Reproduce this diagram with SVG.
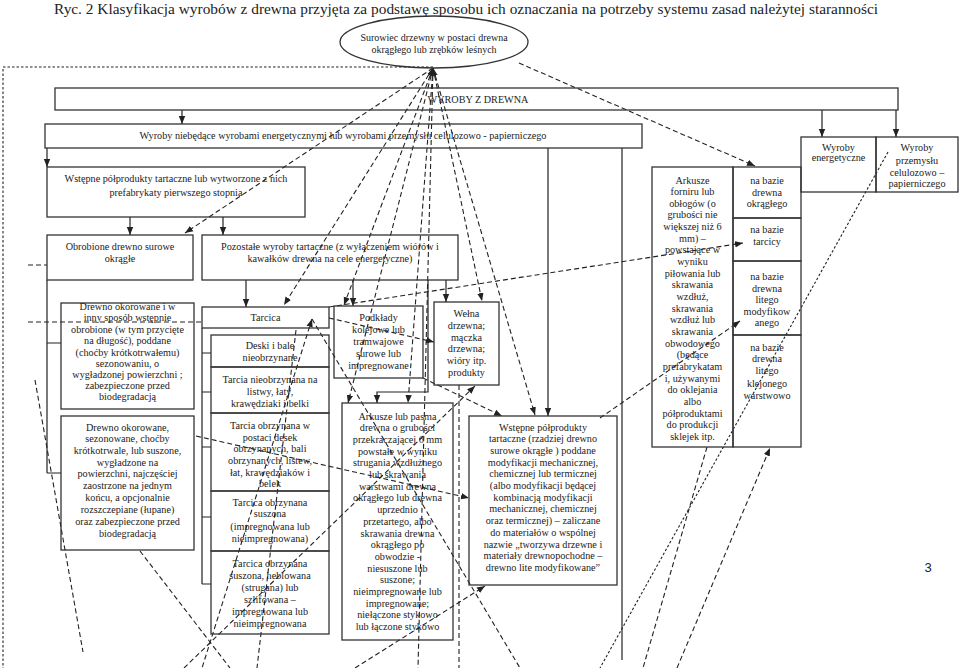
<svg xmlns="http://www.w3.org/2000/svg" width="960" height="668" viewBox="0 0 960 668">
<style>
.b{fill:#fff;stroke:#333;stroke-width:1.3}
.t{font-family:"Liberation Serif","Times New Roman",serif;font-size:10.2px;fill:#222;text-anchor:middle}
.s{fill:none;stroke:#222;stroke-width:1.2}
.d{fill:none;stroke:#222;stroke-width:1.1;stroke-dasharray:5,3}
.dt{fill:none;stroke:#222;stroke-width:1.1;stroke-dasharray:2.5,2}
</style>
<defs>
<marker id="ah" viewBox="0 0 10 10" refX="10" refY="5" markerWidth="8" markerHeight="8" markerUnits="userSpaceOnUse" orient="auto-start-reverse"><path d="M0,1 L10,5 L0,9 z" fill="#222"/></marker>
</defs>
<rect width="960" height="668" fill="#fff"/>
<text x="54" y="14" font-family="'Liberation Serif', 'Times New Roman', serif" font-size="15.5" fill="#222" textLength="824" lengthAdjust="spacingAndGlyphs">Ryc. 2 Klasyfikacja wyrobów z drewna przyjęta za podstawę sposobu ich oznaczania na potrzeby systemu zasad należytej staranności</text>
<text x="928" y="572" font-family="'Liberation Sans', Arial, sans-serif" font-size="13" fill="#222" text-anchor="middle">3</text>

<g id="connectors">
<path class="dt" d="M433,67 H3 V668"/>
<path class="s" d="M182,110 V124" marker-end="url(#ah)"/>
<path class="s" d="M822,110 V137" marker-end="url(#ah)"/>
<path class="s" d="M896,110 V137" marker-end="url(#ah)"/>
<path class="s" d="M47,148 V167" marker-end="url(#ah)"/>
<path class="s" d="M130,217 V235" marker-end="url(#ah)"/>
<path class="s" d="M223,217 V235" marker-end="url(#ah)"/>
<path class="s" d="M47,280 V473 M47,343 H61 M47,473 H61"/>
<path class="s" d="M246,280 V307" marker-end="url(#ah)"/>
<path class="s" d="M202,328 V584 M202,353 H211 M202,392 H211 M202,447 H211 M202,517 H211 M202,584 H211"/>
<path class="s" d="M353,280 V306" marker-end="url(#ah)"/>
<path class="s" d="M428,280 V392 H377 V403" marker-end="url(#ah)"/>
<path class="s" d="M446,280 V302" marker-end="url(#ah)"/>
<path class="s" d="M548,148 V416" marker-end="url(#ah)"/>
<path class="s" d="M622,148 V660"/>

<path class="d" d="M433,68 L185,233" marker-end="url(#ah)"/>
<path class="d" d="M433,68 L284,305" marker-end="url(#ah)"/>
<path class="d" d="M433,68 L344,305" marker-start="url(#ah)" marker-end="url(#ah)"/>
<path class="d" d="M433,68 L348,403" marker-end="url(#ah)"/>
<path class="d" d="M433,68 L408,403" marker-end="url(#ah)"/>
<path class="d" d="M433,68 L418,668" marker-start="url(#ah)"/>
<path class="d" d="M433,68 L482,301" marker-start="url(#ah)" marker-end="url(#ah)"/>
<path class="d" d="M433,68 L535,415" marker-end="url(#ah)"/>

<path class="d" d="M519,63 L755,166" marker-end="url(#ah)"/>
<path class="d" d="M329,307 L743,243" marker-end="url(#ah)"/>
<path class="d" d="M600,418 L740,321" marker-end="url(#ah)"/>
<path class="dt" d="M888,152 L600,668"/>
<path class="d" d="M677,668 L770,448" marker-end="url(#ah)"/>
<path class="d" d="M329,318 L434,342" marker-end="url(#ah)"/>
<path class="d" d="M312,319 L202,668" marker-start="url(#ah)"/>
<path class="d" d="M312,319 L520,668"/>
<path class="d" d="M184,668 L475,386" marker-end="url(#ah)"/>
<path class="d" d="M459,385 L459,668"/>
<path class="d" d="M355,668 L485,586" marker-end="url(#ah)"/>
<path class="d" d="M423,378 L502,416" marker-end="url(#ah)"/>
<path class="d" d="M140,551 L230,668"/>
<path class="d" d="M35,380 L83,652"/>
<path class="d" d="M28,322 L202,322"/>
<path class="d" d="M196,436 L469,498" marker-end="url(#ah)"/>
<path class="d" d="M28,265 L47,265"/>
<path class="d" d="M296,330 L257,668"/>
<path class="d" d="M707,447 L643,668"/>
</g>

<g id="surowiec">
<ellipse cx="434" cy="42" rx="94" ry="26" fill="none" stroke="#333" stroke-width="1.3"/>
<text class="t" style="font-size:10px" x="434" y="41">Surowiec drzewny w postaci drewna</text>
<text class="t" style="font-size:10px" x="434" y="53">okrągłego lub zrębków leśnych</text>
</g>

<g id="wyroby-z-drewna">
<rect class="b" x="55" y="88" width="843" height="22" fill-opacity="0"/>
<text class="t" x="478" y="103">WYROBY Z DREWNA</text>
</g>

<g id="wyroby-nieenerg">
<rect class="b" x="45" y="124" width="597" height="24" fill-opacity="0"/>
<text class="t" x="343" y="139">Wyroby niebędące wyrobami energetycznymi lub wyrobami przemysłu celulozowo - papierniczego</text>
</g>

<g id="wstepne">
<rect class="b" x="47" y="167" width="258" height="50" fill-opacity="0"/>
<text class="t" x="176" y="182">Wstępne półprodukty tartaczne lub wytworzone z nich</text>
<text class="t" x="176" y="196">prefabrykaty  pierwszego stopnia</text>
</g>

<g id="obrobione">
<rect class="b" x="47" y="235" width="146" height="45" fill-opacity="0"/>
<text class="t" x="120" y="250">Obrobione drewno surowe</text>
<text class="t" x="120" y="262">okrągłe</text>
</g>

<g id="pozostale">
<rect class="b" x="202" y="235" width="256" height="45" fill-opacity="0"/>
<text class="t" x="330" y="250">Pozostałe wyroby tartaczne (z wyłączeniem wiórów i</text>
<text class="t" x="330" y="262">kawałków drewna na cele energetyczne)</text>
</g>

<g id="drewno-okorowane-1">
<rect class="b" x="61" y="303" width="133" height="106" fill-opacity="0"/>
<text class="t" x="127.5" y="310">Drewno okorowane i w</text>
<text class="t" x="127.5" y="321">inny sposób wstępnie</text>
<text class="t" x="127.5" y="332.5">obrobione (w tym przycięte</text>
<text class="t" x="127.5" y="344">na długość), poddane</text>
<text class="t" x="127.5" y="355.5">(choćby krótkotrwałemu)</text>
<text class="t" x="127.5" y="366.5">sezonowaniu, o</text>
<text class="t" x="127.5" y="377.5">wygładzonej powierzchni ;</text>
<text class="t" x="127.5" y="388.5">zabezpieczone przed</text>
<text class="t" x="127.5" y="399.5">biodegradacją</text>
</g>

<g id="drewno-okorowane-2">
<rect class="b" x="61" y="416" width="133" height="134" fill-opacity="0"/>
<text class="t" x="127.5" y="430.5">Drewno okorowane,</text>
<text class="t" x="127.5" y="442">sezonowane, choćby</text>
<text class="t" x="127.5" y="453.5">krótkotrwale, lub suszone,</text>
<text class="t" x="127.5" y="465.5">wygładzone na</text>
<text class="t" x="127.5" y="477">powierzchni, najczęściej</text>
<text class="t" x="127.5" y="489">zaostrzone na jednym</text>
<text class="t" x="127.5" y="500.5">końcu,  a opcjonalnie</text>
<text class="t" x="127.5" y="512.5">rozszczepiane (łupane)</text>
<text class="t" x="127.5" y="524.5">oraz zabezpieczone przed</text>
<text class="t" x="127.5" y="536.5">biodegradacją</text>
</g>

<g id="tarcica">
<rect class="b" x="202" y="307" width="127" height="21" fill-opacity="0"/>
<text class="t" x="265.5" y="321">Tarcica</text>
</g>

<g id="tarcica-sub">
<rect class="b" x="211" y="335" width="118" height="32" fill-opacity="0"/>
<text class="t" x="270" y="348.5">Deski i bale</text>
<text class="t" x="270" y="361">nieobrzynane</text>
<rect class="b" x="211" y="367" width="118" height="46" fill-opacity="0"/>
<text class="t" x="270" y="382.5">Tarcia nieobrzynana  na</text>
<text class="t" x="270" y="394.5">listwy, łaty,</text>
<text class="t" x="270" y="406.5">krawędziaki i belki</text>
<rect class="b" x="211" y="413" width="118" height="78" fill-opacity="0"/>
<text class="t" x="270" y="428.5">Tarcia obrzynana w</text>
<text class="t" x="270" y="440.5">postaci desek</text>
<text class="t" x="270" y="452">obrzynanych, bali</text>
<text class="t" x="270" y="463.5">obrzynanych, listew,</text>
<text class="t" x="270" y="475.5">łat, krawędziaków i</text>
<text class="t" x="270" y="487">belek</text>
<rect class="b" x="211" y="491" width="118" height="60" fill-opacity="0"/>
<text class="t" x="270" y="505.5">Tarcica obrzynana</text>
<text class="t" x="270" y="517">suszona</text>
<text class="t" x="270" y="530">(impregnowana lub</text>
<text class="t" x="270" y="541.5">nieimpregnowana)</text>
<rect class="b" x="211" y="551" width="118" height="83" fill-opacity="0"/>
<text class="t" x="270" y="566.5">Tarcica obrzynana</text>
<text class="t" x="270" y="578.5">suszona, heblowana</text>
<text class="t" x="270" y="591">(strugana) lub</text>
<text class="t" x="270" y="603">szlifowana –</text>
<text class="t" x="270" y="615">impregnowana lub</text>
<text class="t" x="270" y="626.5">nieimpregnowana</text>
</g>

<g id="podklady">
<rect class="b" x="334" y="306" width="89" height="72" fill-opacity="0"/>
<text class="t" x="378.5" y="320.5">Podkłady</text>
<text class="t" x="378.5" y="332.5">kolejowe lub</text>
<text class="t" x="378.5" y="345">tramwajowe</text>
<text class="t" x="378.5" y="356.5">surowe lub</text>
<text class="t" x="378.5" y="368.5">impregnowane</text>
</g>

<g id="welna">
<rect class="b" x="434" y="302" width="65" height="83" fill-opacity="0"/>
<text class="t" x="466.5" y="316.5">Wełna</text>
<text class="t" x="466.5" y="328.5">drzewna;</text>
<text class="t" x="466.5" y="340.5">mączka</text>
<text class="t" x="466.5" y="352">drzewna;</text>
<text class="t" x="466.5" y="364">wióry itp.</text>
<text class="t" x="466.5" y="376">produkty</text>
</g>

<g id="arkusze-pasma">
<rect class="b" x="342" y="403" width="111" height="237" fill-opacity="0"/>
<text class="t" x="397.5" y="419.5">Arkusze lub pasma</text>
<text class="t" x="397.5" y="431.2">drewna o grubości</text>
<text class="t" x="397.5" y="442.9">przekraczającej 6 mm</text>
<text class="t" x="397.5" y="454.6">powstałe w wyniku</text>
<text class="t" x="397.5" y="466.3">strugania wzdłużnego</text>
<text class="t" x="397.5" y="478">lub skrawania</text>
<text class="t" x="397.5" y="489.7">warstwami drewna</text>
<text class="t" x="397.5" y="501.4">okrągłego lub drewna</text>
<text class="t" x="397.5" y="513.1">uprzednio</text>
<text class="t" x="397.5" y="524.8">przetartego, albo</text>
<text class="t" x="397.5" y="536.5">skrawania drewna</text>
<text class="t" x="397.5" y="548.2">okrągłego po</text>
<text class="t" x="397.5" y="559.9">obwodzie  -</text>
<text class="t" x="397.5" y="571.6">niesuszone lub</text>
<text class="t" x="397.5" y="583.3">suszone;</text>
<text class="t" x="397.5" y="595">nieimpregnowane lub</text>
<text class="t" x="397.5" y="606.7">impregnowane;</text>
<text class="t" x="397.5" y="618.4">niełączone stykowo</text>
<text class="t" x="397.5" y="630.1">lub łączone stykowo</text>
</g>

<g id="wstepne-modyfikowane">
<rect class="b" x="469" y="416" width="148" height="169" fill-opacity="0"/>
<text class="t" x="543" y="430.5">Wstępne półprodukty</text>
<text class="t" x="543" y="442.2">tartaczne (rzadziej drewno</text>
<text class="t" x="543" y="453.9">surowe okrągłe ) poddane</text>
<text class="t" x="543" y="465.6">modyfikacji mechanicznej,</text>
<text class="t" x="543" y="477.3">chemicznej lub termicznej</text>
<text class="t" x="543" y="489">(albo modyfikacji będącej</text>
<text class="t" x="543" y="500.7">kombinacją modyfikacji</text>
<text class="t" x="543" y="512.4">mechanicznej, chemicznej</text>
<text class="t" x="543" y="524.1">oraz termicznej) – zaliczane</text>
<text class="t" x="543" y="535.8">do materiałów o wspólnej</text>
<text class="t" x="543" y="547.5">nazwie „tworzywa drzewne i</text>
<text class="t" x="543" y="559.2">materiały drewnopochodne –</text>
<text class="t" x="543" y="570.9">drewno lite modyfikowane”</text>
</g>

<g id="arkusze-forniru">
<rect class="b" x="652" y="167" width="81" height="280" fill-opacity="0"/>
<text class="t" x="692.5" y="183.5">Arkusze</text>
<text class="t" x="692.5" y="195.15">forniru lub</text>
<text class="t" x="692.5" y="206.8">obłogów (o</text>
<text class="t" x="692.5" y="218.45">grubości nie</text>
<text class="t" x="692.5" y="230.1">większej niż 6</text>
<text class="t" x="692.5" y="241.75">mm)   –</text>
<text class="t" x="692.5" y="253.4">powstające w</text>
<text class="t" x="692.5" y="265.05">wyniku</text>
<text class="t" x="692.5" y="276.7">piłowania  lub</text>
<text class="t" x="692.5" y="288.35">skrawania</text>
<text class="t" x="692.5" y="300">wzdłuż,</text>
<text class="t" x="692.5" y="311.65">skrawania</text>
<text class="t" x="692.5" y="323.3">wzdłuż lub</text>
<text class="t" x="692.5" y="334.95">skrawania</text>
<text class="t" x="692.5" y="346.6">obwodowego</text>
<text class="t" x="692.5" y="358.25">(będące</text>
<text class="t" x="692.5" y="369.9">prefabrykatam</text>
<text class="t" x="692.5" y="381.55">i, używanymi</text>
<text class="t" x="692.5" y="393.2">do oklejania</text>
<text class="t" x="692.5" y="404.85">albo</text>
<text class="t" x="692.5" y="416.5">półproduktami</text>
<text class="t" x="692.5" y="428.15">do produkcji</text>
<text class="t" x="692.5" y="439.8">sklejek itp.</text>
</g>

<g id="na-bazie">
<rect class="b" x="733" y="167" width="68" height="51" fill-opacity="0"/>
<text class="t" x="767" y="183.5">na bazie</text>
<text class="t" x="767" y="195.5">drewna</text>
<text class="t" x="767" y="206.5">okrągłego</text>
<rect class="b" x="733" y="218" width="68" height="43" fill-opacity="0"/>
<text class="t" x="767" y="232.5">na bazie</text>
<text class="t" x="767" y="244.5">tarcicy</text>
<rect class="b" x="733" y="261" width="68" height="74" fill-opacity="0"/>
<text class="t" x="767" y="280">na bazie</text>
<text class="t" x="767" y="291.5">drewna</text>
<text class="t" x="767" y="303">litego</text>
<text class="t" x="767" y="314.5">modyfikow</text>
<text class="t" x="767" y="326">anego</text>
<rect class="b" x="733" y="335" width="68" height="112" fill-opacity="0"/>
<text class="t" x="767" y="350.5">na bazie</text>
<text class="t" x="767" y="362">drewna</text>
<text class="t" x="767" y="374">litego</text>
<text class="t" x="767" y="386.5">klejonego</text>
<text class="t" x="767" y="398.5">warstwowo</text>
</g>

<g id="wyroby-energetyczne">
<rect class="b" x="801" y="137" width="75" height="55" fill-opacity="0"/>
<text class="t" x="838.5" y="150.5">Wyroby</text>
<text class="t" x="838.5" y="161">energetyczne</text>
</g>

<g id="wyroby-celuloza">
<rect class="b" x="876" y="137" width="82" height="55" fill-opacity="0"/>
<text class="t" x="917" y="150.5">Wyroby</text>
<text class="t" x="917" y="163.5">przemysłu</text>
<text class="t" x="917" y="175.5">celulozowo –</text>
<text class="t" x="917" y="187">papierniczego</text>
</g>
</svg>
